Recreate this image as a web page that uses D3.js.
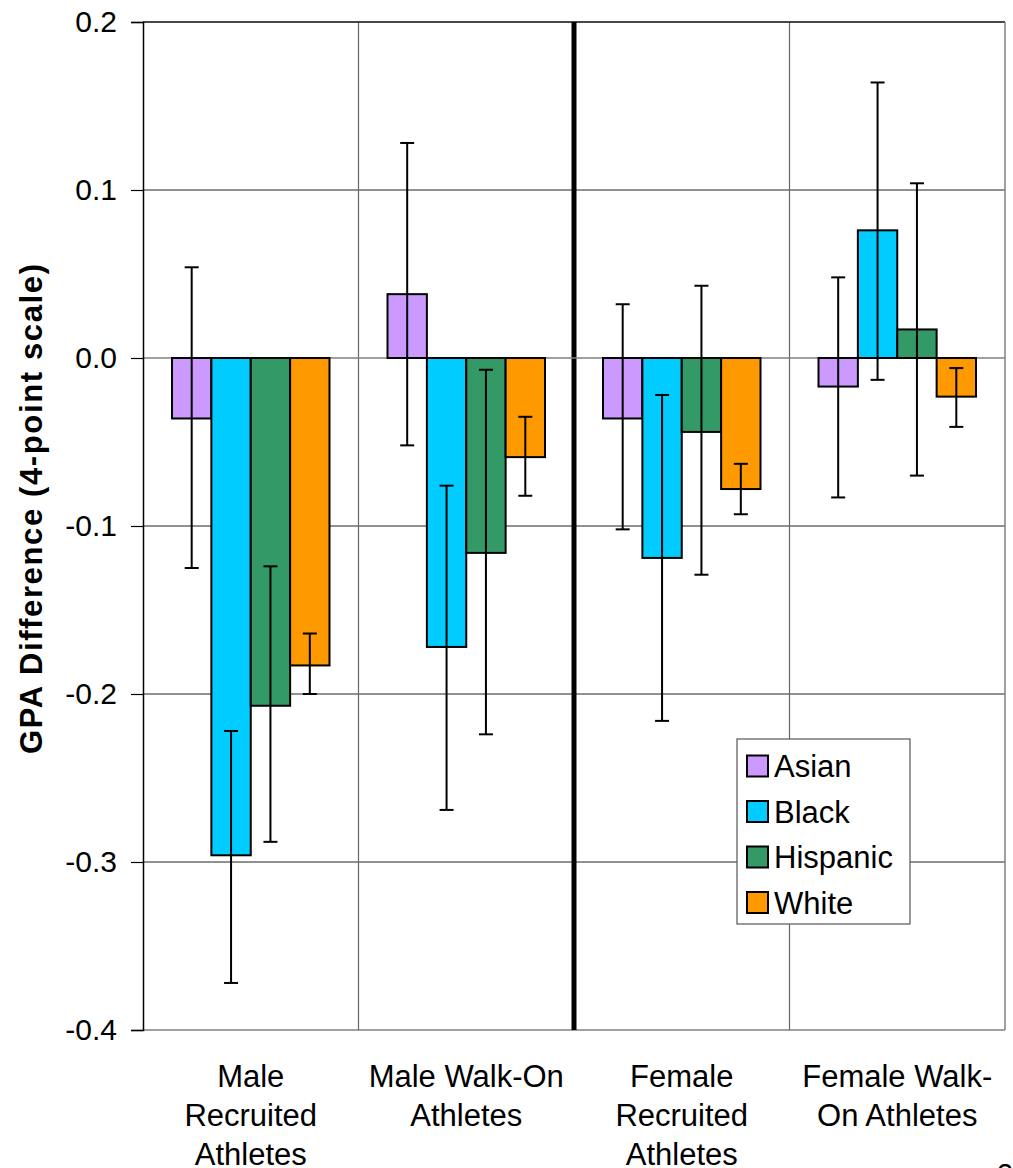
<!DOCTYPE html>
<html>
<head>
<meta charset="utf-8">
<script src="https://cdn.jsdelivr.net/npm/d3@7"></script>
<style>
  body { margin: 0; background: #fff; }
  text { font-family: "Liberation Sans", Arial, sans-serif; }
</style>
</head>
<body>
<div id="chart"></div>
<script>
const groups = ["Male Recruited Athletes", "Male Walk-On Athletes", "Female Recruited Athletes", "Female Walk-On Athletes"];
const groupLines = [
    ["Male", "Recruited", "Athletes"],
    ["Male Walk-On", "Athletes"],
    ["Female", "Recruited", "Athletes"],
    ["Female Walk-", "On Athletes"]
];
const races = ["Asian", "Black", "Hispanic", "White"];
const raceColors = ["#CC99FF", "#00CCFF", "#339966", "#FF9900"];

// bar value per group, one array per race
const asian    = [-0.036, 0.038, -0.036, -0.017];
const black    = [-0.296, -0.172, -0.119, 0.076];
const hispanic = [-0.207, -0.116, -0.044, 0.017];
const white    = [-0.183, -0.059, -0.078, -0.023];

// error bar low / high
const asianLo    = [-0.125, -0.052, -0.102, -0.083];
const asianHi    = [0.054, 0.128, 0.032, 0.048];
const blackLo    = [-0.372, -0.269, -0.216, -0.013];
const blackHi    = [-0.222, -0.076, -0.022, 0.164];
const hispanicLo = [-0.288, -0.224, -0.129, -0.070];
const hispanicHi = [-0.124, -0.007, 0.043, 0.104];
const whiteLo    = [-0.200, -0.082, -0.093, -0.041];
const whiteHi    = [-0.164, -0.035, -0.063, -0.006];

const yTicks = [0.2, 0.1, 0.0, -0.1, -0.2, -0.3, -0.4];

const series = [
    {race: "Asian", vals: asian, lo: asianLo, hi: asianHi},
    {race: "Black", vals: black, lo: blackLo, hi: blackHi},
    {race: "Hispanic", vals: hispanic, lo: hispanicLo, hi: hispanicHi},
    {race: "White", vals: white, lo: whiteLo, hi: whiteHi}
];

const rows = [];
series.forEach(s => {
    groups.forEach((g, i) => {
        rows.push({group: g, race: s.race, value: s.vals[i], lo: s.lo[i], hi: s.hi[i]});
    });
});

const margin = { top: 22, right: 8, bottom: 138, left: 143 };
const width = 1013 - margin.left - margin.right;
const height = 1168 - margin.top - margin.bottom;

const root = d3.select("#chart")
    .append("svg")
    .attr("width", 1013)
    .attr("height", 1168);

const svg = root.append("g")
    .attr("transform", `translate(${margin.left},${margin.top})`);

const x0 = d3.scaleBand().domain(groups).range([0, width]);
const x1 = d3.scaleBand().domain(races).range([29, x0.bandwidth() - 29]);
const y = d3.scaleLinear().domain([-0.4, 0.2]).range([height, 0]);
const color = d3.scaleOrdinal().domain(races).range(raceColors);

// horizontal gridlines
svg.selectAll(".hgrid")
    .data(yTicks.filter(t => t !== 0))
    .join("line")
    .attr("class", "hgrid")
    .attr("x1", 0).attr("x2", width)
    .attr("y1", d => y(d)).attr("y2", d => y(d))
    .attr("stroke", d => d === -0.4 ? "#808080" : "#222")
    .attr("stroke-width", d => d === -0.4 ? 1.5 : 1);

// vertical gridlines between groups
svg.selectAll(".vgrid")
    .data(groups.slice(1))
    .join("line")
    .attr("class", "vgrid")
    .attr("x1", d => x0(d)).attr("x2", d => x0(d))
    .attr("y1", 0).attr("y2", height)
    .attr("stroke", (d, i) => i === 1 ? "#000" : "#666")
    .attr("stroke-width", (d, i) => i === 1 ? 5 : 1.2);

// plot border (top/right)
svg.append("line").attr("x1", 0).attr("x2", width).attr("y1", 0).attr("y2", 0)
    .attr("stroke", "#000").attr("stroke-width", 1.2);
svg.append("line").attr("x1", width).attr("x2", width).attr("y1", 0).attr("y2", height)
    .attr("stroke", "#808080").attr("stroke-width", 1.5);

// zero line
svg.append("line")
    .attr("x1", 0).attr("x2", width)
    .attr("y1", y(0)).attr("y2", y(0))
    .attr("stroke", "#808080").attr("stroke-width", 1.5);

// bars
svg.selectAll(".bar")
    .data(rows)
    .join("rect")
    .attr("class", "bar")
    .attr("x", d => x0(d.group) + x1(d.race))
    .attr("width", x1.bandwidth())
    .attr("y", d => y(Math.max(0, d.value)))
    .attr("height", d => Math.abs(y(d.value) - y(0)))
    .attr("fill", d => color(d.race))
    .attr("stroke", "#000")
    .attr("stroke-width", 2);

// error bars
const err = svg.selectAll(".err")
    .data(rows)
    .join("g")
    .attr("class", "err")
    .attr("transform", d => `translate(${x0(d.group) + x1(d.race) + x1.bandwidth() / 2},0)`);

err.append("line")
    .attr("y1", d => y(d.lo)).attr("y2", d => y(d.hi))
    .attr("stroke", "#000").attr("stroke-width", 2);
err.append("line")
    .attr("x1", -7).attr("x2", 7)
    .attr("y1", d => y(d.hi)).attr("y2", d => y(d.hi))
    .attr("stroke", "#000").attr("stroke-width", 2);
err.append("line")
    .attr("x1", -7).attr("x2", 7)
    .attr("y1", d => y(d.lo)).attr("y2", d => y(d.lo))
    .attr("stroke", "#000").attr("stroke-width", 2);

// y axis
const yAxis = svg.append("g")
    .call(d3.axisLeft(y).tickValues(yTicks).tickSize(12).tickPadding(14)
        .tickFormat(d => d3.format(".1f")(d).replace("\u2212", "-")));
yAxis.select(".domain").attr("stroke", "#000").attr("stroke-width", 1.5);
yAxis.selectAll(".tick line").attr("stroke", "#000").attr("stroke-width", 1.2);
yAxis.selectAll(".tick text")
    .attr("font-size", 30)
    .attr("fill", "#000")
    .attr("font-family", "Liberation Sans, Arial, sans-serif");

// category labels
svg.selectAll(".cat")
    .data(groups)
    .join("text")
    .attr("class", "cat")
    .attr("text-anchor", "middle")
    .attr("font-size", 31)
    .attr("fill", "#000")
    .each(function (d, i) {
        const t = d3.select(this);
        groupLines[i].forEach((line, j) => {
            t.append("tspan")
                .attr("x", x0(d) + x0.bandwidth() / 2)
                .attr("y", height + 57 + j * 39)
                .text(line);
        });
    });

// y title
root.append("text")
    .attr("transform", "translate(42,509) rotate(-90)")
    .attr("text-anchor", "middle")
    .attr("font-size", 31)
    .attr("textLength", 490)
    .attr("lengthAdjust", "spacing")
    .attr("font-weight", "bold")
    .attr("fill", "#000")
    .text("GPA Difference (4-point scale)");

// legend
const legend = root.append("g").attr("transform", "translate(737,739)");
legend.append("rect")
    .attr("width", 173).attr("height", 185)
    .attr("fill", "#fff").attr("stroke", "#555").attr("stroke-width", 1.2);
const li = legend.selectAll(".li")
    .data(races)
    .join("g")
    .attr("class", "li")
    .attr("transform", (d, i) => `translate(10,${27 + i * 45.5})`);
li.append("rect")
    .attr("x", 0).attr("y", -10.5)
    .attr("width", 21).attr("height", 21)
    .attr("fill", d => color(d))
    .attr("stroke", "#000").attr("stroke-width", 2);
li.append("text")
    .attr("x", 27).attr("y", 11)
    .attr("font-size", 31)
    .attr("fill", "#000")
    .text(d => d);

// page number cut off at the corner
root.append("text")
    .attr("x", 997).attr("y", 1184)
    .attr("font-size", 29)
    .attr("fill", "#000")
    .text("2");
</script>
</body>
</html>
